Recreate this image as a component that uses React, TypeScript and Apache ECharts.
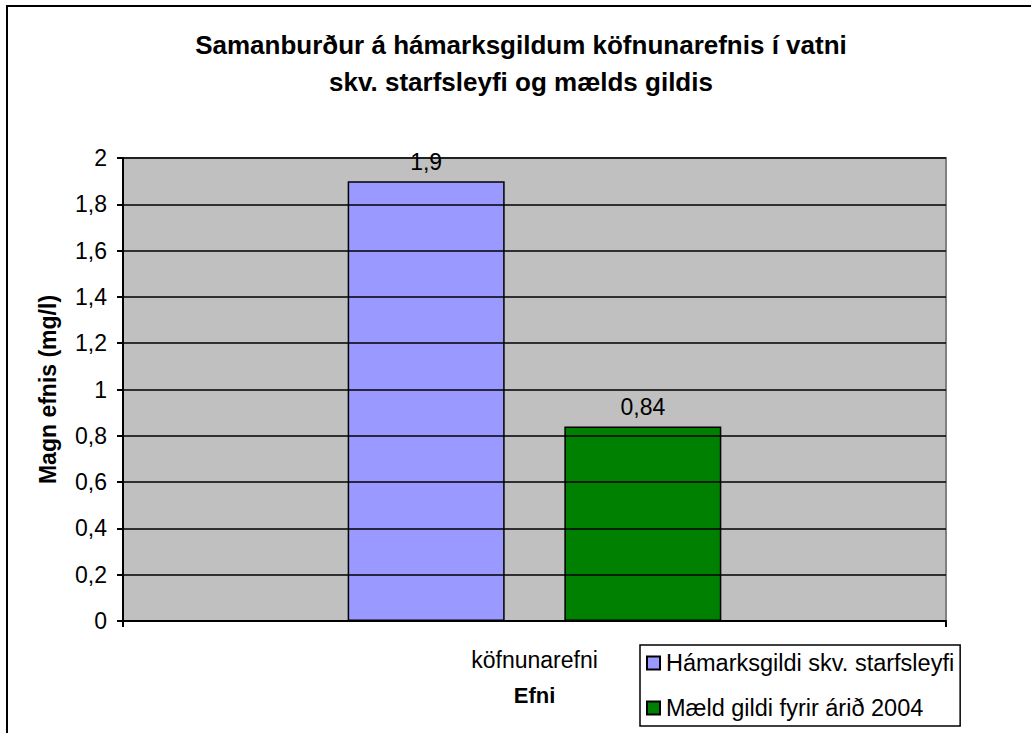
import React, { useEffect, useRef } from "react";
import * as echarts from "echarts";

const categories = ["köfnunarefni"];
const seriesNames = ["Hámarksgildi skv. starfsleyfi", "Mæld gildi fyrir árið 2004"];
const maxValues = [1.9];
const measuredValues = [0.84];
const titleLines = ["Samanburður á hámarksgildum köfnunarefnis í vatni", "skv. starfsleyfi og mælds gildis"];
const yAxisName = "Magn efnis (mg/l)";
const xAxisName = "Efni";

const FONT = "Liberation Sans, Arial, sans-serif";

export default function App() {
  const ref = useRef<HTMLDivElement>(null);
  useEffect(() => {
    document.body.style.margin = "0";
    const chart = echarts.init(ref.current!, undefined, { renderer: "svg" });
    const fmt = (v: number) => String(v).replace(".", ",");
    const barLabel = {
      show: true,
      position: "top",
      distance: 8,
      fontFamily: FONT,
      fontSize: 23,
      color: "#000",
      formatter: (p: any) => fmt(p.value),
    };
    chart.setOption({
      animation: false,
      backgroundColor: "#ffffff",
      textStyle: { fontFamily: FONT },
      graphic: [
        {
          type: "rect",
          shape: { x: 7, y: 6, width: 1200, height: 1000 },
          style: { fill: "none", stroke: "#000", lineWidth: 2 },
          silent: true,
        },
        {
          type: "text",
          x: 521,
          y: 45,
          style: {
            text: titleLines[0],
            fontFamily: FONT,
            fontWeight: "bold",
            fontSize: 26,
            fill: "#000",
            align: "center",
            verticalAlign: "middle",
          },
        },
        {
          type: "text",
          x: 521,
          y: 82,
          style: {
            text: titleLines[1],
            fontFamily: FONT,
            fontWeight: "bold",
            fontSize: 26,
            fill: "#000",
            align: "center",
            verticalAlign: "middle",
          },
        },
        {
          type: "rect",
          shape: { x: 123, y: 158, width: 823, height: 463 },
          style: { fill: "none", stroke: "#808080", lineWidth: 2 },
          silent: true,
          z: 1,
        },
      ],
      grid: {
        left: 123,
        top: 158,
        width: 823,
        height: 463,
        show: true,
        backgroundColor: "#c0c0c0",
        borderWidth: 0,
      },
      legend: {
        orient: "vertical",
        left: 640,
        top: 645,
        padding: [6, 6, 6, 6],
        itemGap: 21,
        itemWidth: 13,
        itemHeight: 13,
        borderColor: "#000",
        borderWidth: 1.5,
        backgroundColor: "#fff",
        icon: "rect",
        textStyle: { fontFamily: FONT, fontSize: 23.5, color: "#000", padding: [0, 0, 0, 1] },
        data: seriesNames,
      },
      xAxis: {
        type: "category",
        data: categories,
        name: xAxisName,
        nameLocation: "middle",
        nameGap: 63,
        nameTextStyle: { fontFamily: FONT, fontSize: 22, fontWeight: "bold", color: "#000" },
        axisLine: { lineStyle: { color: "#000", width: 2 } },
        axisTick: { show: true, length: 6, lineStyle: { color: "#000", width: 2 } },
        axisLabel: { fontFamily: FONT, fontSize: 23, color: "#000", margin: 27 },
        z: 5,
      },
      yAxis: {
        type: "value",
        min: 0,
        max: 2,
        interval: 0.2,
        name: yAxisName,
        nameLocation: "middle",
        nameGap: 64,
        nameTextStyle: { fontFamily: FONT, fontSize: 23, fontWeight: "bold", color: "#000" },
        axisLine: { show: true, lineStyle: { color: "#000", width: 2 } },
        axisTick: { show: true, length: 6, lineStyle: { color: "#000", width: 2 } },
        axisLabel: {
          fontFamily: FONT,
          fontSize: 23,
          color: "#000",
          margin: 16,
          formatter: (v: number) => fmt(Math.round(v * 10) / 10),
        },
        splitLine: { show: true, lineStyle: { color: "#000", width: 1.5 } },
        z: 5,
      },
      series: [
        {
          name: seriesNames[0],
          type: "bar",
          data: maxValues,
          barWidth: 157,
          barGap: "38%",
          itemStyle: { color: "#9999ff", borderColor: "#000", borderWidth: 1.5 },
          label: barLabel,
          z: 3,
        },
        {
          name: seriesNames[1],
          type: "bar",
          data: measuredValues,
          barWidth: 157,
          barGap: "38%",
          itemStyle: { color: "#008000", borderColor: "#000", borderWidth: 1.5 },
          label: barLabel,
          z: 3,
        },
      ],
    });
    return () => chart.dispose();
  }, []);
  return <div ref={ref} style={{ width: 1031, height: 733 }} />;
}
